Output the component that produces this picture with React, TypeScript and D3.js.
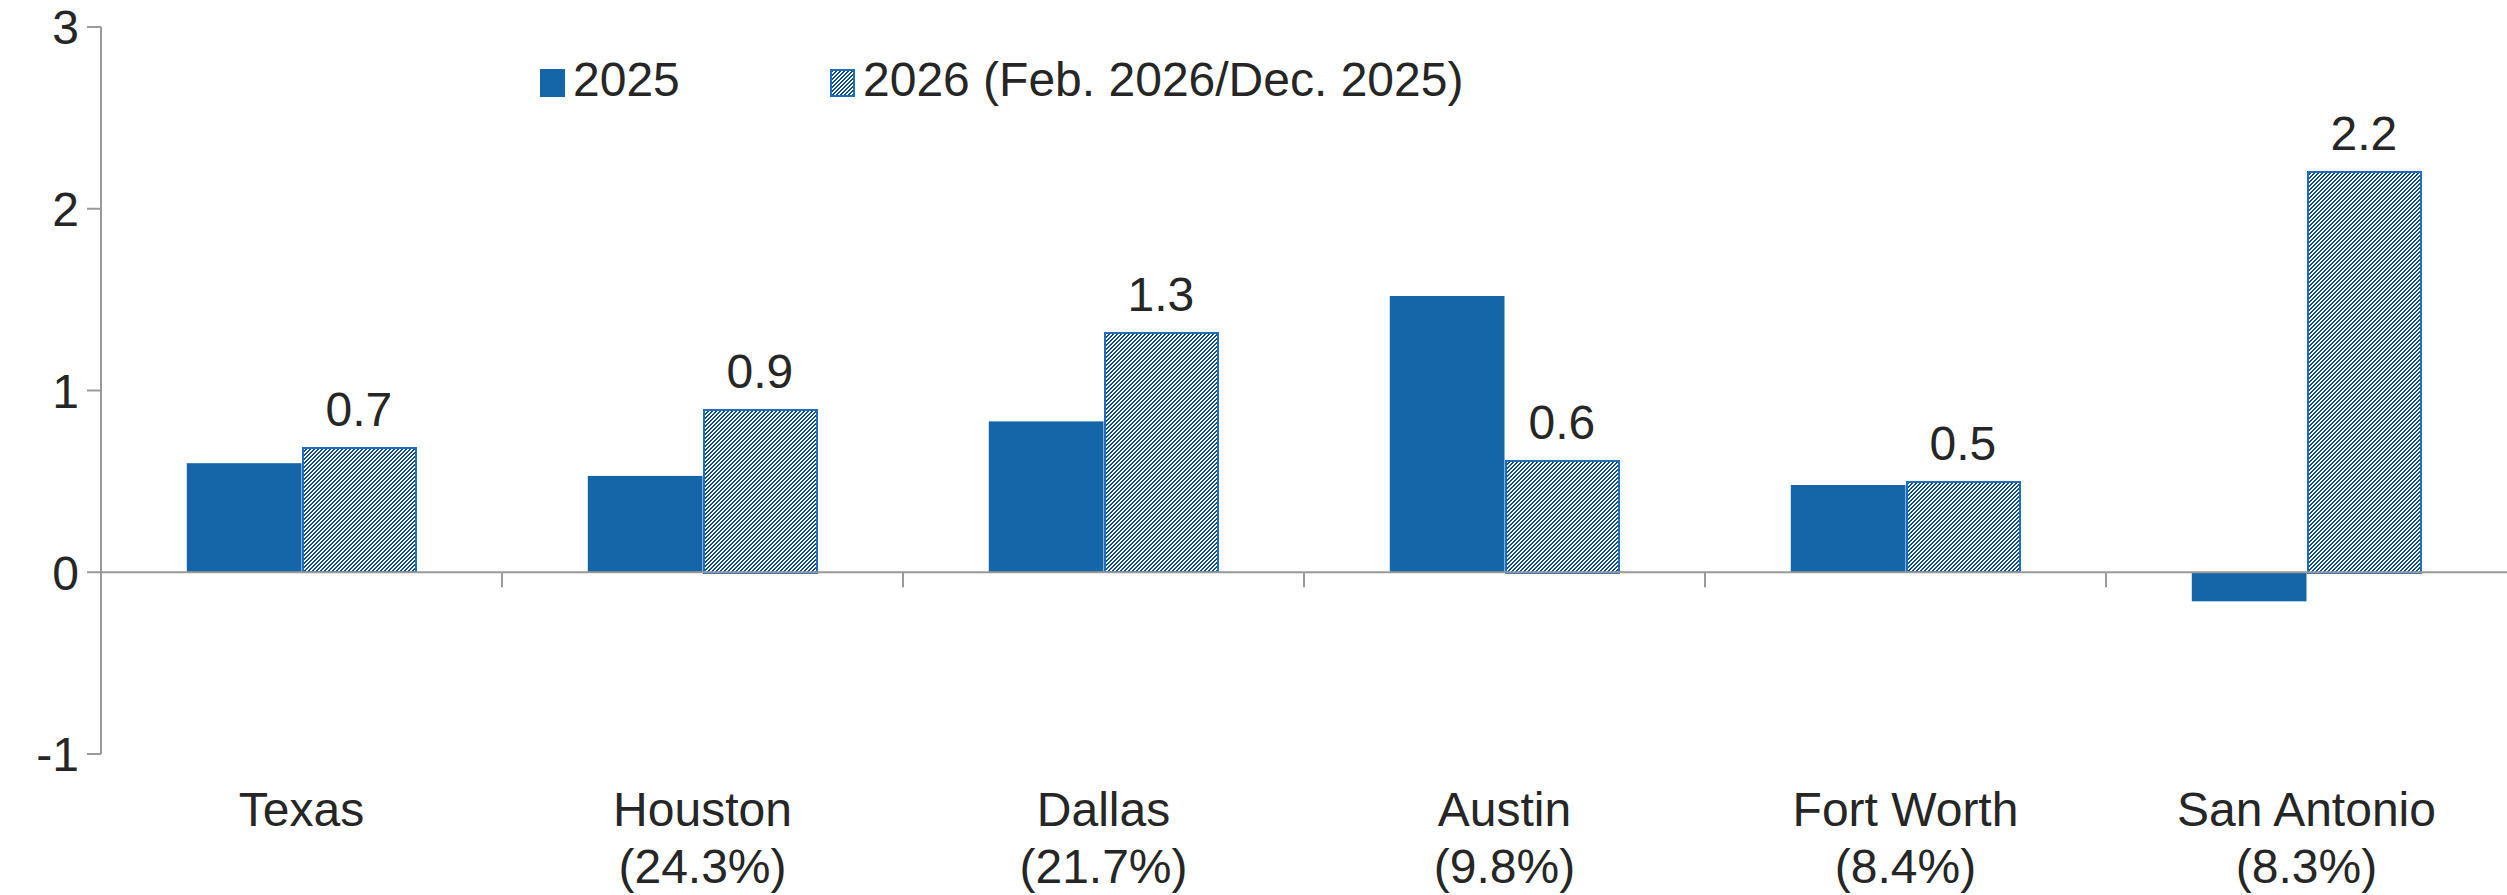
import React, { useEffect, useRef } from "react";
import * as d3 from "d3";

const categories = ["Texas", "Houston", "Dallas", "Austin", "Fort Worth", "San Antonio"];
const subLabels = ["", "(24.3%)", "(21.7%)", "(9.8%)", "(8.4%)", "(8.3%)"];
const series = ["2025", "2026 (Feb. 2026/Dec. 2025)"];
const values2025 = [0.6, 0.53, 0.83, 1.52, 0.48, -0.16];
const values2026 = [0.69, 0.9, 1.32, 0.62, 0.5, 2.21];
const labels2026 = ["0.7", "0.9", "1.3", "0.6", "0.5", "2.2"];
const yTicks = [-1, 0, 1, 2, 3];

const W = 2507;
const H = 895;
const FONT = "'Liberation Sans', Arial, sans-serif";
const FS = 48;
const SOLID = "#1565a9";
const STRIPE = "#0e4c88";
const BORDER = "#1f6fbe";
const AXIS = "#999999";
const TEXT = "#262626";

export default function App() {
  const ref = useRef<SVGSVGElement>(null);

  useEffect(() => {
    document.body.style.margin = "0";
    const svg = d3.select(ref.current);
    svg.selectAll("*").remove();

    const x0 = 101, x1 = 2507;
    const y = d3.scaleLinear().domain([-1, 3]).range([754, 27]);
    const x = d3.scaleBand<string>().domain(categories).range([x0, x1]).paddingInner(0).paddingOuter(0);
    const xs = d3.scaleBand<string>().domain(["a", "b"]).range([0, x.step()]).paddingInner(0).paddingOuter(0.748);

    const defs = svg.append("defs");
    const pat = defs.append("pattern")
      .attr("id", "hatch")
      .attr("patternUnits", "userSpaceOnUse")
      .attr("width", 4).attr("height", 4);
    pat.append("rect").attr("width", 4).attr("height", 4).attr("fill", "#ffffff");
    const px: [number, number][] = [[2, 0], [3, 0], [1, 1], [2, 1], [0, 2], [1, 2], [3, 3], [0, 3]];
    px.forEach(([a, b]) => {
      pat.append("rect").attr("x", a).attr("y", b).attr("width", 1).attr("height", 1)
        .attr("fill", STRIPE).attr("shape-rendering", "crispEdges");
    });

    const g = svg.append("g");

    // bars
    categories.forEach((c, i) => {
      const bx = x(c)!;
      const v1 = values2025[i];
      g.append("rect")
        .attr("x", bx + xs("a")!)
        .attr("y", y(Math.max(0, v1)))
        .attr("width", xs.bandwidth())
        .attr("height", Math.abs(y(v1) - y(0)))
        .attr("fill", SOLID);
      const v2 = values2026[i];
      g.append("rect")
        .attr("x", Math.round(bx + xs("b")! + 1))
        .attr("y", Math.round(y(Math.max(0, v2)) + 1))
        .attr("width", Math.round(xs.bandwidth() - 2))
        .attr("height", Math.round(Math.abs(y(v2) - y(0)) - 1))
        .attr("fill", "url(#hatch)")
        .attr("stroke", BORDER)
        .attr("stroke-width", 2);
      g.append("text")
        .attr("x", bx + xs("b")! + xs.bandwidth() / 2)
        .attr("y", y(Math.max(0, v2)) - 21)
        .attr("text-anchor", "middle")
        .attr("font-family", FONT)
        .attr("font-size", FS)
        .attr("fill", TEXT)
        .text(labels2026[i]);
    });

    // y axis
    g.append("line").attr("x1", x0).attr("x2", x0).attr("y1", y(3)).attr("y2", y(-1))
      .attr("stroke", AXIS).attr("stroke-width", 2);
    yTicks.forEach((t) => {
      g.append("line").attr("x1", x0 - 14).attr("x2", x0).attr("y1", y(t)).attr("y2", y(t))
        .attr("stroke", AXIS).attr("stroke-width", 2);
      g.append("text")
        .attr("x", x0 - 22)
        .attr("y", y(t))
        .attr("dy", "0.36em")
        .attr("text-anchor", "end")
        .attr("font-family", FONT)
        .attr("font-size", FS)
        .attr("fill", TEXT)
        .text(String(t));
    });

    // x axis at zero
    g.append("line").attr("x1", x0).attr("x2", x1).attr("y1", y(0)).attr("y2", y(0))
      .attr("stroke", AXIS).attr("stroke-width", 2);
    categories.forEach((c, i) => {
      if (i > 0) {
        g.append("line").attr("x1", x(c)!).attr("x2", x(c)!).attr("y1", y(0)).attr("y2", y(0) + 15)
          .attr("stroke", AXIS).attr("stroke-width", 2);
      }
      const cx = x(c)! + x.bandwidth() / 2;
      g.append("text").attr("x", cx).attr("y", 826).attr("text-anchor", "middle")
        .attr("font-family", FONT).attr("font-size", FS).attr("fill", TEXT).text(c);
      if (subLabels[i]) {
        g.append("text").attr("x", cx).attr("y", 883).attr("text-anchor", "middle")
          .attr("font-family", FONT).attr("font-size", FS).attr("fill", TEXT).text(subLabels[i]);
      }
    });

    // legend
    const legX = [540, 830];
    series.forEach((s, i) => {
      g.append("rect").attr("x", legX[i] + (i === 1 ? 1 : 0)).attr("y", 69 + (i === 1 ? 1 : 0))
        .attr("width", i === 1 ? 23 : 25).attr("height", i === 1 ? 26 : 28)
        .attr("fill", i === 0 ? SOLID : "url(#hatch)")
        .attr("stroke", i === 0 ? "none" : BORDER).attr("stroke-width", i === 0 ? 0 : 2);
      g.append("text").attr("x", legX[i] + 33).attr("y", 96)
        .attr("font-family", FONT).attr("font-size", FS).attr("fill", TEXT).text(s);
    });
  }, []);

  return (
    <svg ref={ref} width={W} height={H} style={{ position: "absolute", left: 0, top: 0, background: "#fff" }} />
  );
}
